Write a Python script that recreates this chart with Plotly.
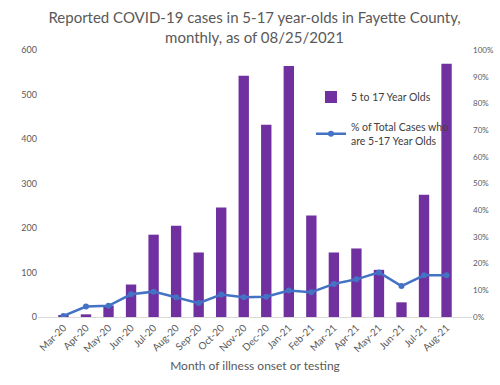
import plotly.graph_objects as go

months = ["Mar-20", "Apr-20", "May-20", "Jun-20", "Jul-20", "Aug-20", "Sep-20", "Oct-20",
          "Nov-20", "Dec-20", "Jan-21", "Feb-21", "Mar-21", "Apr-21", "May-21", "Jun-21",
          "Jul-21", "Aug-21"]
cases_5_17 = [3, 6, 26, 73, 185, 205, 145, 246, 542, 432, 564, 228, 145, 154, 106, 33, 275, 569]
pct_total = [0.4, 3.9, 4.2, 8.5, 9.5, 7.4, 5.2, 8.4, 7.4, 7.6, 9.9, 9.3, 12.4, 14.1, 16.7, 11.6, 15.6, 15.6]

left_ticks = [0, 100, 200, 300, 400, 500, 600]
right_ticks = [0, 10, 20, 30, 40, 50, 60, 70, 80, 90, 100]

FONT = "Lato, Liberation Sans, sans-serif"
GRAY = "#595959"

fig = go.Figure()
fig.add_trace(go.Bar(
    x=months, y=cases_5_17, name="5 to 17 Year Olds", legendgroup="a",
    marker=dict(color="#7030A0", line=dict(width=0)),
))
fig.add_trace(go.Scatter(
    x=months, y=pct_total, name="% of Total Cases who<br>are 5-17 Year Olds", legendgroup="b",
    yaxis="y2", mode="lines+markers",
    line=dict(color="#4472C4", width=2.5),
    marker=dict(color="#4472C4", size=6),
))

fig.update_layout(
    width=500, height=385,
    margin=dict(l=38, r=28, t=50, b=68, autoexpand=False),
    paper_bgcolor="white", plot_bgcolor="white",
    font=dict(family=FONT, color=GRAY, size=10),
    title=dict(
        text="Reported COVID-19 cases in 5-17 year-olds in Fayette County,<br>monthly, as of 08/25/2021",
        x=0.499, xanchor="center", xref="paper", y=0.94, yanchor="middle",
        font=dict(family=FONT, size=15, color=GRAY), automargin=False,
    ),
    bargap=0.54,
    showlegend=True,
    legend=dict(
        x=0.629, xanchor="left", y=0.878, yanchor="top",
        bgcolor="rgba(0,0,0,0)", font=dict(family=FONT, size=10.5, color="#404040"),
        tracegroupgap=12, itemwidth=30,
    ),
    xaxis=dict(
        tickangle=-45, showgrid=False, showline=True, linecolor="#D9D9D9", linewidth=1,
        ticks="", tickfont=dict(size=10, color=GRAY), automargin=False,
        title=dict(text="Month of illness onset or testing", font=dict(size=12, color=GRAY), standoff=8),
    ),
    yaxis=dict(
        range=[0, 600], tickvals=left_ticks, showgrid=False, zeroline=False,
        ticks="", tickfont=dict(size=9, color=GRAY), automargin=False,
    ),
    yaxis2=dict(
        range=[0, 100], tickvals=right_ticks, ticktext=[f"{v}%" for v in right_ticks],
        overlaying="y", side="right", showgrid=False, zeroline=False,
        ticks="", tickfont=dict(size=8, color=GRAY), automargin=False,
    ),
)

fig.write_html("out.html", config={"displayModeBar": False},
               post_script="document.body.style.margin='0';")
